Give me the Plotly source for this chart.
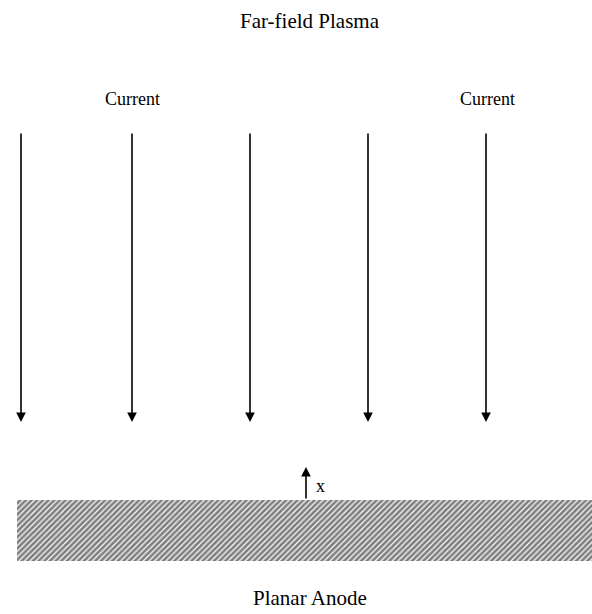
import plotly.graph_objects as go

# Diagram in pixel-like coordinates (x right, y down)
current_x = [21, 132, 250, 368, 486]
current_top = 132
current_tip = 422

current_labels = ["Current", "Current"]
current_label_x = [132, 487]
current_label_y = 99

anode_left = 17
anode_right = 592
anode_top = 500
anode_bottom = 561

x_arrow_x = 306
x_arrow_tip = 467

SERIF = "Liberation Serif, Times New Roman, serif"

fig = go.Figure()

# Planar anode: hatched block
fig.add_trace(
    go.Bar(
        x=[(anode_left + anode_right) / 2],
        y=[anode_bottom - anode_top],
        base=[anode_top],
        width=[anode_right - anode_left],
        marker=dict(
            color="white",
            line_width=0,
            pattern=dict(shape="/", fgcolor="black", bgcolor="white", size=4, solidity=0.7),
        ),
        hoverinfo="skip",
        showlegend=False,
    )
)

# Current arrows flowing down toward the anode
for cx in current_x:
    fig.add_annotation(
        x=cx, y=current_tip, ax=cx, ay=current_top,
        xref="x", yref="y", axref="x", ayref="y",
        text="", showarrow=True,
        arrowhead=2, arrowsize=1.2, arrowwidth=1.6, arrowcolor="black",
    )

# Coordinate arrow x pointing away from the anode
fig.add_annotation(
    x=x_arrow_x, y=x_arrow_tip, ax=x_arrow_x, ay=anode_top,
    xref="x", yref="y", axref="x", ayref="y",
    text="", showarrow=True,
    arrowhead=2, arrowsize=1.2, arrowwidth=1.6, arrowcolor="black",
)
fig.add_annotation(
    x=x_arrow_x + 14, y=486, text="x", showarrow=False,
    font=dict(family=SERIF, size=18, color="black"),
)

for lbl, lx in zip(current_labels, current_label_x):
    fig.add_annotation(
        x=lx, y=current_label_y, text=lbl, showarrow=False,
        font=dict(family=SERIF, size=18, color="black"),
    )

fig.add_annotation(
    x=310, y=21, text="Far-field Plasma", showarrow=False,
    font=dict(family=SERIF, size=21, color="black"),
)
fig.add_annotation(
    x=310, y=598, text="Planar Anode", showarrow=False,
    font=dict(family=SERIF, size=21, color="black"),
)

fig.update_xaxes(range=[0, 592], visible=False, fixedrange=True)
fig.update_yaxes(range=[614, 0], visible=False, fixedrange=True)
fig.update_layout(
    width=592, height=614,
    margin=dict(l=0, r=0, t=0, b=0),
    plot_bgcolor="white", paper_bgcolor="white",
    bargap=0,
)

# drop the default page margin so the figure fills the window exactly
fig.write_html(
    "out.html",
    config={"displayModeBar": False},
    post_script="document.body.style.margin='0';document.body.style.overflow='hidden';",
)
